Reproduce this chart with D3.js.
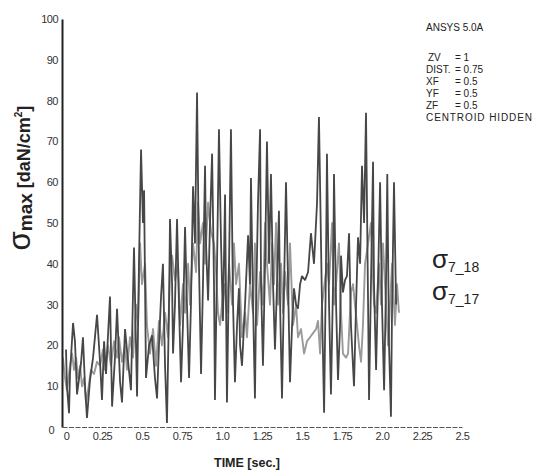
<!DOCTYPE html>
<html><head><meta charset="utf-8">
<script src="https://cdn.jsdelivr.net/npm/d3@7"></script>
<style>
html,body{margin:0;padding:0;background:#fff;}
svg{display:block;font-family:"Liberation Sans",Arial,sans-serif;}
</style></head>
<body>
<svg id="c" width="535" height="470"></svg>
<script>
// ---- data ----
const xTicks = [0,0.25,0.5,0.75,1.0,1.25,1.5,1.75,2.0,2.25,2.5];
const xTickLabels = ["0","0.25","0.5","0.75","1.0","1.25","1.5","1.75","2.0","2.25","2.5"];
const yTicks = [0,10,20,30,40,50,60,70,80,90,100];
const yTickLabels = ["0","10","20","30","40","50","60","70","80","90","100"];
const seriesNames = ["7_18","7_17"];
const infoLines = ["ZV","DIST.","XF","YF","ZF"];
const infoValues = ["1","0.75","0.5","0.5","0.5"];

// sigma 7_18 (dark trace): time [s], value [daN/cm2]
const timeA = [0.025,0.031,0.044,0.050,0.069,0.081,0.094,0.119,0.131,0.144,0.156,0.175,0.194,0.219,0.238,0.250,0.263,0.275,0.300,0.313,0.331,0.344,0.363,0.375,0.394,0.413,0.431,0.450,0.469,0.481,0.494,0.506,0.513,0.525,0.544,0.563,0.581,0.594,0.606,0.619,0.631,0.644,0.656,0.669,0.675,0.688,0.694,0.706,0.719,0.731,0.744,0.756,0.769,0.781,0.794,0.806,0.819,0.831,0.844,0.856,0.869,0.881,0.894,0.900,0.913,0.925,0.938,0.950,0.956,0.969,0.981,0.994,1.006,1.019,1.031,1.044,1.056,1.069,1.081,1.094,1.106,1.113,1.125,1.144,1.163,1.175,1.181,1.194,1.206,1.213,1.225,1.238,1.244,1.256,1.269,1.281,1.294,1.306,1.319,1.331,1.344,1.356,1.363,1.375,1.388,1.400,1.413,1.425,1.438,1.450,1.463,1.475,1.488,1.500,1.519,1.538,1.556,1.575,1.594,1.606,1.625,1.638,1.650,1.656,1.669,1.681,1.694,1.700,1.713,1.725,1.738,1.744,1.756,1.769,1.781,1.794,1.806,1.825,1.838,1.850,1.863,1.875,1.888,1.900,1.913,1.919,1.931,1.944,1.950,1.963,1.975,1.988,2.000,2.013,2.025,2.033,2.044,2.056,2.063,2.075,2.088,2.100];
const valA  = [19,10,3.4,13,25.5,21,8,15.7,22,10,2.2,11.5,17,27.5,15.7,6.6,21,13,32,5,17,29,11,6,24,16,9,44,7.5,40,68,50,58,12,20,22.5,12,7,20,32,40,15,1,30,51,35,18,30,51,30,11,25,49,30,12,30,59,45,82,40,13,35,64,45,31,50,67,35,6.6,40,73,45,26,57,6,40,73,30,11,25,34,20,15,30,47,35,61,30,7,30,55,73,35,15,40,70,40,62,35,19,35,53,30,7,35,60,35,11,25,34,30,29,35,37,36,38,47.5,40,55,76,30,3.5,40,67,30,8,35,62,30,11.5,25,42,33,36,37,47.5,25,10,30,46.5,40,64,50,77,30,6.6,35,65,35,14,35,60,30,9,35,62,20,2.5,30,60,30];

// sigma 7_17 (light trace)
const timeB = [0.006,0.019,0.031,0.050,0.063,0.075,0.088,0.100,0.113,0.125,0.138,0.150,0.163,0.181,0.200,0.219,0.238,0.256,0.269,0.288,0.306,0.325,0.344,0.356,0.375,0.394,0.406,0.425,0.444,0.463,0.475,0.488,0.500,0.519,0.531,0.550,0.569,0.588,0.606,0.625,0.644,0.663,0.675,0.688,0.706,0.725,0.738,0.756,0.769,0.788,0.800,0.819,0.838,0.850,0.863,0.881,0.894,0.913,0.931,0.950,0.963,0.975,0.988,1.013,1.031,1.044,1.063,1.075,1.088,1.106,1.125,1.144,1.156,1.175,1.194,1.206,1.219,1.238,1.256,1.269,1.281,1.300,1.313,1.325,1.338,1.350,1.369,1.381,1.394,1.413,1.425,1.444,1.463,1.475,1.494,1.513,1.531,1.550,1.569,1.588,1.600,1.613,1.625,1.656,1.669,1.688,1.700,1.713,1.731,1.744,1.756,1.775,1.788,1.806,1.819,1.831,1.844,1.856,1.869,1.881,1.894,1.913,1.931,1.950,1.963,1.981,1.994,2.006,2.019,2.038,2.050,2.063,2.081,2.094,2.106];
const valB  = [17,12,9,15,18,14,17,12,15,10,12,6,9,14,13,16,15,19,14,20,15,21,17,22,16,20,14,22,17,30,25,45,35,40,25,18,24,15,26,20,28,22,38,42,36,40,25,35,28,40,30,45,38,55,45,50,40,55,48,45,38,28,25,35,28,40,30,45,35,40,22,28,22,35,28,45,25,38,30,50,40,30,45,35,50,30,40,28,38,30,45,25,30,22,24,18,21,22,23,24,26,18,30,40,35,50,30,35,45,28,18,17,18,33,35,30,25,20,16,25,40,45,50,30,28,40,30,45,35,20,30,40,25,35,28,40,35];

// ---- drawing ----
const svg = d3.select("#c");
const x = d3.scaleLinear().domain([0,2.5]).range([62,462]);
const y = d3.scaleLinear().domain([0,100]).range([427,19]);
const font = '"Liberation Sans",Arial,sans-serif';

// series
const line = d3.line().x(d=>x(d[0])).y(d=>y(d[1]));
const dataB = timeB.map((t,i)=>[t,valB[i]]);
const dataA = timeA.map((t,i)=>[t,valA[i]]);
svg.append("path").datum(dataB).attr("d",line)
  .attr("fill","none").attr("stroke","#9a9a9a").attr("stroke-width",1.9).attr("stroke-linejoin","round");
svg.append("path").datum(dataA).attr("d",line)
  .attr("fill","none").attr("stroke","#474747").attr("stroke-width",1.8).attr("stroke-linejoin","miter").attr("stroke-miterlimit",2);

// axes
const gy = svg.append("g").attr("transform","translate(62,0)")
  .call(d3.axisLeft(y).tickValues(yTicks).tickSize(0).tickPadding(4).tickFormat((d,i)=>yTickLabels[i]));
gy.select(".domain").attr("stroke","#222").attr("stroke-width",2);
gy.selectAll("text").attr("font-size",11).attr("font-family",font).attr("fill","#333").attr("letter-spacing","-0.5px");
gy.selectAll(".tick").filter(d=>d===0).select("text").attr("dx",-4).attr("dy","0.6em");

const gx = svg.append("g").attr("transform","translate(0,427)")
  .call(d3.axisBottom(x).tickValues(xTicks).tickSize(0).tickPadding(5).tickFormat((d,i)=>xTickLabels[i]));
gx.select(".domain").attr("stroke","#555").attr("stroke-width",1.2).attr("stroke-dasharray","5,1.5");
gx.selectAll("text").attr("font-size",11).attr("font-family",font).attr("fill","#333").attr("letter-spacing","-0.5px");
gx.selectAll(".tick").filter(d=>d===0).select("text").attr("dx",4);

// axis titles
svg.append("text").attr("x",247).attr("y",467).attr("text-anchor","middle")
  .attr("font-family",font).attr("font-weight","bold").attr("font-size",12.5).attr("fill","#222")
  .text("TIME [sec.]");

const yt = svg.append("text").attr("transform","translate(30,178) rotate(-90)").attr("text-anchor","middle")
  .attr("font-family",font).attr("font-weight","bold").attr("fill","#222");
yt.append("tspan").attr("font-size",31).attr("font-weight","normal").text("σ");
yt.append("tspan").attr("font-size",19).attr("dy",2).text("max");
yt.append("tspan").attr("font-size",18).attr("dy",-2).text(" [daN/cm");
yt.append("tspan").attr("font-size",10).attr("dy",-8).text("2");
yt.append("tspan").attr("font-size",18).attr("dy",8).text("]");

// info block
svg.append("text").attr("x",426).attr("y",31).attr("font-family",font).attr("font-size",10).attr("fill","#222").text("ANSYS 5.0A");
infoLines.forEach((k,i)=>{
  const yy = 61 + i*12;
  svg.append("text").attr("x",i===0?428:426).attr("y",yy).attr("font-family",font).attr("font-size",10).attr("fill","#222").text(k);
  svg.append("text").attr("x",455).attr("y",yy).attr("font-family",font).attr("font-size",10).attr("fill","#222").text("= "+infoValues[i]);
});
svg.append("text").attr("x",426).attr("y",121).attr("font-family",font).attr("font-size",10).attr("fill","#222").attr("textLength",106).text("CENTROID HIDDEN");

// series labels
seriesNames.forEach((n,i)=>{
  const t = svg.append("text").attr("x",432).attr("y",268+i*32).attr("font-family",font).attr("fill","#222");
  t.append("tspan").attr("font-size",26).text("σ");
  t.append("tspan").attr("font-size",14).attr("dy",4).text(n);
});
</script>
</body></html>
